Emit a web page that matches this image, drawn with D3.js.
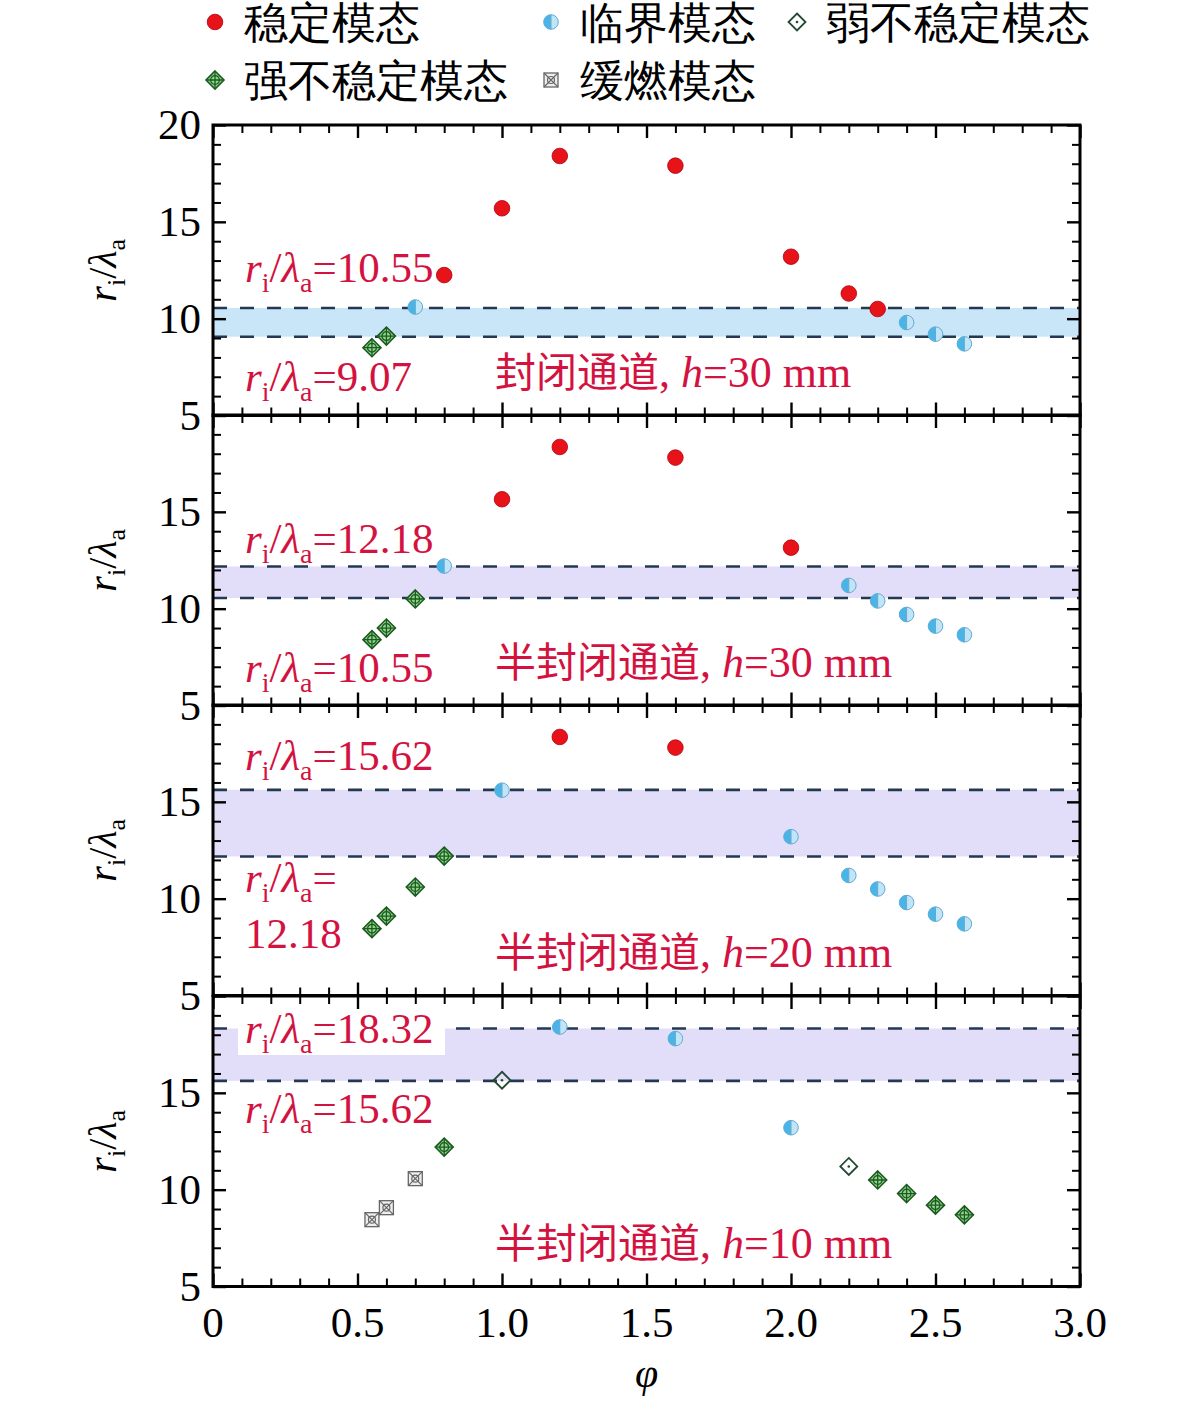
<!DOCTYPE html>
<html>
<head>
<meta charset="utf-8">
<script src="https://cdn.jsdelivr.net/npm/d3@7"></script>
<style>
  body { margin: 0; background: #fff; }
  svg text { font-family: "Liberation Serif", "DejaVu Serif", serif; }
</style>
</head>
<body>
<div id="mainDiv"></div>
<script>
// ---- data (phi, r_i/lambda_a) ----
var modeNames = [ '稳定模态', '临界模态', '弱不稳定模态', '强不稳定模态', '缓燃模态' ];
var panelTitles = [ '封闭通道', '半封闭通道', '半封闭通道', '半封闭通道' ];
var panelHeights = [ 30, 30, 20, 10 ];
var bandLow = [ 9.07, 10.55, 12.18, 15.62 ];
var bandHigh = [ 10.55, 12.18, 15.62, 18.32 ];

var stable1 = [ [0.8, 12.25], [1.0, 15.7], [1.2, 18.4], [1.6, 17.9], [2.0, 13.2], [2.2, 11.3], [2.3, 10.5] ];
var critical1 = [ [0.7, 10.6], [2.4, 9.8], [2.5, 9.2], [2.6, 8.7] ];
var strong1 = [ [0.55, 8.5], [0.6, 9.1] ];

var stable2 = [ [1.0, 15.65], [1.2, 18.35], [1.6, 17.8], [2.0, 13.15] ];
var critical2 = [ [0.8, 12.2], [2.2, 11.2], [2.3, 10.4], [2.4, 9.7], [2.5, 9.1], [2.6, 8.65] ];
var strong2 = [ [0.55, 8.4], [0.6, 9.0], [0.7, 10.5] ];

var stable3 = [ [1.2, 18.35], [1.6, 17.8] ];
var critical3 = [ [1.0, 15.6], [2.0, 13.2], [2.2, 11.2], [2.3, 10.5], [2.4, 9.8], [2.5, 9.2], [2.6, 8.7] ];
var strong3 = [ [0.55, 8.45], [0.6, 9.1], [0.7, 10.6], [0.8, 12.2] ];

var critical4 = [ [1.2, 18.4], [1.6, 17.8], [2.0, 13.2] ];
var weak4 = [ [1.0, 15.65], [2.2, 11.2] ];
var strong4 = [ [0.8, 12.2], [2.3, 10.5], [2.4, 9.8], [2.5, 9.2], [2.6, 8.7] ];
var slow4 = [ [0.55, 8.45], [0.6, 9.07], [0.7, 10.57] ];

var panelData = [
    { stable: stable1, critical: critical1, weak: [], strong: strong1, slow: [] },
    { stable: stable2, critical: critical2, weak: [], strong: strong2, slow: [] },
    { stable: stable3, critical: critical3, weak: [], strong: strong3, slow: [] },
    { stable: [], critical: critical4, weak: weak4, strong: strong4, slow: slow4 }
];
var xTickValues = [ 0, 0.5, 1.0, 1.5, 2.0, 2.5, 3.0 ];
var xTickLabels = [ '0', '0.5', '1.0', '1.5', '2.0', '2.5', '3.0' ];

// ---- layout ----
var _width = 1181, _height = 1406,
    _left = 213, _right = 1080,
    _panelTop = [ 125, 415, 705, 996 ],
    _panelH = 290.5,
    _red = '#d4123f',
    _cjk = '"Noto Sans CJK SC", "Noto Sans CJK JP", sans-serif',
    _bandColors = [ '#c9e5f8', '#e2ddf9', '#e2ddf9', '#e2ddf9' ],
    _annSize = 43;

var svg = d3.select( '#mainDiv' ).append( 'svg' )
    .attr( 'width', _width )
    .attr( 'height', _height );

svg.append( 'rect' ).attr( 'width', _width ).attr( 'height', _height ).attr( 'fill', '#fff' );

var x = d3.scaleLinear().domain( [ 0, 3 ] ).range( [ _left, _right ] );

// ---- marker drawers ----
var drawStable = function ( g ) {
    g.append( 'circle' ).attr( 'r', 7.8 ).attr( 'fill', '#e81219' ).attr( 'stroke', '#b00010' ).attr( 'stroke-width', 0.8 );
};
var drawCritical = function ( g ) {
    g.append( 'circle' ).attr( 'r', 7.3 ).attr( 'fill', '#bfe6f8' ).attr( 'stroke', '#6aa8cc' ).attr( 'stroke-width', 1 );
    g.append( 'path' ).attr( 'd', 'M0,-7.3 A7.3,7.3 0 0,0 0,7.3 Z' ).attr( 'fill', '#4bb4e6' );
    g.append( 'line' ).attr( 'x1', 0 ).attr( 'x2', 0 ).attr( 'y1', -7.3 ).attr( 'y2', 7.3 ).attr( 'stroke', '#6aa8cc' ).attr( 'stroke-width', 1 );
};
var drawWeak = function ( g ) {
    g.append( 'path' ).attr( 'd', 'M0,-8.5 L8.5,0 L0,8.5 L-8.5,0 Z' ).attr( 'fill', 'none' ).attr( 'stroke', '#224a32' ).attr( 'stroke-width', 1.8 );
    g.append( 'circle' ).attr( 'r', 1.3 ).attr( 'fill', '#224a32' );
};
var drawStrong = function ( g ) {
    g.append( 'path' ).attr( 'd', 'M0,-9 L9,0 L0,9 L-9,0 Z' ).attr( 'fill', '#8fd68a' ).attr( 'stroke', '#1d5a22' ).attr( 'stroke-width', 1.6 );
    g.append( 'circle' ).attr( 'r', 4.4 ).attr( 'fill', 'none' ).attr( 'stroke', '#1d5a22' ).attr( 'stroke-width', 1.3 );
    g.append( 'path' ).attr( 'd', 'M-9,0 H9 M0,-9 V9' ).attr( 'stroke', '#1d5a22' ).attr( 'stroke-width', 1.3 );
};
var drawSlow = function ( g ) {
    g.append( 'rect' ).attr( 'x', -7 ).attr( 'y', -7 ).attr( 'width', 14 ).attr( 'height', 14 ).attr( 'fill', '#eee' ).attr( 'stroke', '#666' ).attr( 'stroke-width', 1.3 );
    g.append( 'path' ).attr( 'd', 'M-7,-7 L7,7 M7,-7 L-7,7' ).attr( 'stroke', '#666' ).attr( 'stroke-width', 1.2 );
    g.append( 'circle' ).attr( 'r', 3.5 ).attr( 'fill', 'none' ).attr( 'stroke', '#666' ).attr( 'stroke-width', 1.2 );
};
var drawers = { stable: drawStable, critical: drawCritical, weak: drawWeak, strong: drawStrong, slow: drawSlow };

// r_i/lambda_a = value, with subscripts
var ratioText = function ( g, px, py, suffix, size ) {
    var t = g.append( 'text' ).attr( 'x', px ).attr( 'y', py ).attr( 'fill', _red ).attr( 'font-size', size );
    var sub = Math.round( size * 0.65 ), dy = Math.round( size * 0.24 );
    t.append( 'tspan' ).attr( 'font-style', 'italic' ).text( 'r' );
    t.append( 'tspan' ).attr( 'font-size', sub ).attr( 'dy', dy ).text( 'i' );
    t.append( 'tspan' ).attr( 'dy', -dy ).text( '/' );
    t.append( 'tspan' ).attr( 'font-style', 'italic' ).text( 'λ' );
    t.append( 'tspan' ).attr( 'font-size', sub ).attr( 'dy', dy ).text( 'a' );
    t.append( 'tspan' ).attr( 'dy', -dy ).text( suffix );
    return t;
};

// ---- panels ----
panelTitles.forEach( function ( title, i ) {
    var top = _panelTop[ i ], bottom = top + _panelH;
    var y = d3.scaleLinear().domain( [ 5, 20 ] ).range( [ bottom, top ] );
    var g = svg.append( 'g' ).attr( 'id', 'panel' + i );

    // shaded band + dashed bounds
    g.append( 'rect' )
        .attr( 'x', _left ).attr( 'width', _right - _left )
        .attr( 'y', y( bandHigh[ i ] ) ).attr( 'height', y( bandLow[ i ] ) - y( bandHigh[ i ] ) )
        .attr( 'fill', _bandColors[ i ] );
    [ bandLow[ i ], bandHigh[ i ] ].forEach( function ( v ) {
        g.append( 'line' )
            .attr( 'x1', _left ).attr( 'x2', _right )
            .attr( 'y1', y( v ) ).attr( 'y2', y( v ) )
            .attr( 'stroke', '#253852' ).attr( 'stroke-width', 2.6 )
            .attr( 'stroke-dasharray', '14,13' );
    } );

    // markers
    var d = panelData[ i ];
    [ 'slow', 'strong', 'weak', 'critical', 'stable' ].forEach( function ( k ) {
        g.selectAll( '.m-' + k ).data( d[ k ] ).enter()
            .append( 'g' ).attr( 'class', 'm-' + k )
            .attr( 'transform', function ( p ) { return 'translate(' + x( p[ 0 ] ) + ',' + y( p[ 1 ] ) + ')'; } )
            .each( function () { drawers[ k ]( d3.select( this ) ); } );
    } );

    // annotations
    if ( i === 0 ) {
        ratioText( g, 245, 282, '=10.55', _annSize );
        ratioText( g, 245, 391, '=9.07', _annSize );
    } else if ( i === 1 ) {
        ratioText( g, 245, 553, '=12.18', _annSize );
        ratioText( g, 245, 682, '=10.55', _annSize );
    } else if ( i === 2 ) {
        ratioText( g, 245, 770, '=15.62', _annSize );
        ratioText( g, 245, 892, '=', _annSize );
        g.append( 'text' ).attr( 'x', 245 ).attr( 'y', 948 ).attr( 'fill', _red ).attr( 'font-size', _annSize ).text( '12.18' );
    } else {
        g.append( 'rect' ).attr( 'x', 238 ).attr( 'y', 1003 ).attr( 'width', 207 ).attr( 'height', 52 ).attr( 'fill', '#fff' );
        ratioText( g, 245, 1043, '=18.32', _annSize );
        ratioText( g, 245, 1123, '=15.62', _annSize );
    }

    // panel title
    var tt = g.append( 'text' ).attr( 'x', 495 ).attr( 'y', bottom - 29 ).attr( 'fill', _red ).attr( 'font-size', 44 );
    tt.append( 'tspan' ).attr( 'font-family', _cjk ).attr( 'font-size', 41 ).text( title );
    tt.append( 'tspan' ).text( ', ' );
    tt.append( 'tspan' ).attr( 'font-style', 'italic' ).text( 'h' );
    tt.append( 'tspan' ).text( '=' + panelHeights[ i ] + ' mm' );

    // axes with inward ticks
    var yMajor = [ 5, 10, 15, 20 ], yMinor = d3.range( 5, 21 ).filter( function ( v ) { return v % 5 !== 0; } );
    var xMajor = xTickValues, xMinor = d3.range( 1, 30 ).map( function ( v ) { return v / 10; } ).filter( function ( v ) { return Math.round( v * 10 ) % 5 !== 0; } );
    var axes = [
        [ d3.axisLeft( y ), 'translate(' + _left + ',0)', yMajor, yMinor ],
        [ d3.axisRight( y ), 'translate(' + _right + ',0)', yMajor, yMinor ],
        [ d3.axisTop( x ), 'translate(0,' + top + ')', xMajor, xMinor ],
        [ d3.axisBottom( x ), 'translate(0,' + bottom + ')', xMajor, xMinor ]
    ];
    axes.forEach( function ( a ) {
        var ax = g.append( 'g' ).attr( 'transform', a[ 1 ] )
            .call( a[ 0 ].tickValues( a[ 2 ] ).tickSize( -13 ).tickFormat( '' ) );
        ax.select( '.domain' ).remove();
        ax.selectAll( 'line' ).attr( 'stroke', '#000' ).attr( 'stroke-width', 2.4 );
        var ax2 = g.append( 'g' ).attr( 'transform', a[ 1 ] )
            .call( a[ 0 ].tickValues( a[ 3 ] ).tickSize( -8 ).tickFormat( '' ) );
        ax2.select( '.domain' ).remove();
        ax2.selectAll( 'line' ).attr( 'stroke', '#000' ).attr( 'stroke-width', 2 );
    } );
    g.append( 'rect' )
        .attr( 'x', _left ).attr( 'y', top ).attr( 'width', _right - _left ).attr( 'height', _panelH )
        .attr( 'fill', 'none' ).attr( 'stroke', '#000' ).attr( 'stroke-width', 3 );

    // y tick labels
    var labels = i === 0 ? [ 20, 15, 10, 5 ] : [ 15, 10, 5 ];
    g.selectAll( '.ylab' ).data( labels ).enter().append( 'text' )
        .attr( 'class', 'ylab' )
        .attr( 'x', _left - 12 ).attr( 'y', function ( v ) { return y( v ) + 14; } )
        .attr( 'text-anchor', 'end' ).attr( 'font-size', 43 )
        .text( function ( v ) { return v; } );

    // y axis title
    var yl = g.append( 'text' )
        .attr( 'transform', 'translate(116,' + ( top + _panelH / 2 ) + ') rotate(-90)' )
        .attr( 'text-anchor', 'middle' ).attr( 'font-size', 40 );
    yl.append( 'tspan' ).attr( 'font-style', 'italic' ).text( 'r' );
    yl.append( 'tspan' ).attr( 'font-size', 26 ).attr( 'dy', 9 ).text( 'i' );
    yl.append( 'tspan' ).attr( 'dy', -9 ).text( '/' );
    yl.append( 'tspan' ).attr( 'font-style', 'italic' ).text( 'λ' );
    yl.append( 'tspan' ).attr( 'font-size', 26 ).attr( 'dy', 9 ).text( 'a' );
} );

// x tick labels and title
var lastBottom = _panelTop[ 3 ] + _panelH;
svg.selectAll( '.xlab' ).data( xTickValues ).enter().append( 'text' )
    .attr( 'class', 'xlab' )
    .attr( 'x', function ( v ) { return x( v ); } ).attr( 'y', lastBottom + 50 )
    .attr( 'text-anchor', 'middle' ).attr( 'font-size', 43 )
    .text( function ( v, j ) { return xTickLabels[ j ]; } );
svg.append( 'text' )
    .attr( 'x', x( 1.5 ) ).attr( 'y', lastBottom + 100 )
    .attr( 'text-anchor', 'middle' ).attr( 'font-size', 42 ).attr( 'font-style', 'italic' )
    .text( 'φ' );

// ---- legend ----
var legendItems = [
    { k: 'stable', x: 215, y: 22 },
    { k: 'critical', x: 551, y: 22 },
    { k: 'weak', x: 797, y: 22 },
    { k: 'strong', x: 215, y: 80 },
    { k: 'slow', x: 551, y: 80 }
];
legendItems.forEach( function ( it, j ) {
    var lg = svg.append( 'g' ).attr( 'transform', 'translate(' + it.x + ',' + it.y + ')' );
    drawers[ it.k ]( lg );
    svg.append( 'text' )
        .attr( 'x', it.x + 29 ).attr( 'y', it.y + 16 )
        .attr( 'font-family', _cjk ).attr( 'font-size', 44 )
        .text( modeNames[ j ] );
} );
</script>
</body>
</html>
